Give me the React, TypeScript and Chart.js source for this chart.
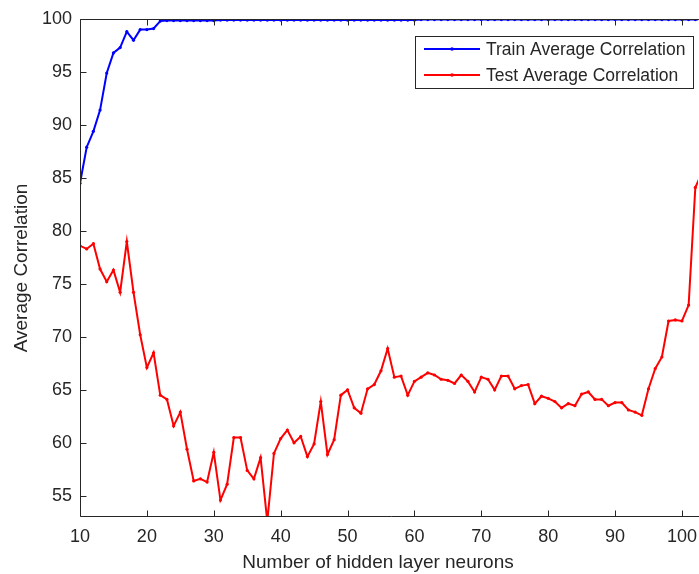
import React, { useEffect, useRef } from 'react';
import { Chart, registerables } from 'chart.js';

Chart.register(...registerables);

// ---- data ----
const neurons = [
  9, 10, 11, 12, 13, 14, 15, 16, 17, 18, 19, 20, 21, 22, 23, 24, 25, 26, 27, 28,
  29, 30, 31, 32, 33, 34, 35, 36, 37, 38, 39, 40, 41, 42, 43, 44, 45, 46, 47, 48,
  49, 50, 51, 52, 53, 54, 55, 56, 57, 58, 59, 60, 61, 62, 63, 64, 65, 66, 67, 68,
  69, 70, 71, 72, 73, 74, 75, 76, 77, 78, 79, 80, 81, 82, 83, 84, 85, 86, 87, 88,
  89, 90, 91, 92, 93, 94, 95, 96, 97, 98, 99, 100, 101, 102, 103,
];

const trainCorr = [
  80.0, 84.5, 87.9, 89.4, 91.4, 94.9, 96.8, 97.3, 98.8, 98.0, 99.0, 99.0, 99.1, 99.8, 99.85, 99.85, 99.85, 99.85, 99.85, 99.85,
  99.85, 99.85, 99.9, 99.9, 99.9, 99.9, 99.9, 99.9, 99.9, 99.9, 99.9, 99.9, 99.9, 99.9, 99.9, 99.9, 99.9, 99.9, 99.9, 99.9,
  99.9, 99.9, 99.9, 99.9, 99.9, 99.9, 99.9, 99.9, 99.9, 99.9, 99.9, 99.9, 99.95, 99.95, 99.95, 99.95, 99.95, 99.95, 99.95, 99.95,
  99.95, 99.95, 99.95, 99.95, 99.95, 99.95, 99.95, 99.95, 99.95, 99.95, 99.95, 99.95, 99.95, 99.95, 99.95, 99.95, 99.95, 99.95, 99.95, 99.95,
  99.95, 99.95, 99.95, 99.95, 99.95, 99.95, 99.95, 99.95, 99.95, 99.95, 99.95, 99.95, 99.95, 99.95, 99.95,
];

const testCorr = [
  76.0, 78.6, 78.3, 78.8, 76.4, 75.2, 76.3, 74.2, 79.0, 74.2, 70.2, 67.1, 68.5, 64.5, 64.1, 61.6, 62.9, 59.4, 56.4, 56.6,
  56.3, 59.1, 54.6, 56.1, 60.5, 60.5, 57.4, 56.6, 58.6, 52.6, 59.0, 60.4, 61.2, 60.0, 60.6, 58.7, 59.9, 63.9, 58.9, 60.3,
  64.5, 65.0, 63.3, 62.8, 65.1, 65.5, 66.8, 68.9, 66.2, 66.3, 64.5, 65.8, 66.2, 66.6, 66.4, 66.0, 65.9, 65.6, 66.4, 65.8,
  64.8, 66.2, 66.0, 65.0, 66.3, 66.3, 65.1, 65.4, 65.5, 63.7, 64.4, 64.2, 63.9, 63.3, 63.7, 63.5, 64.6, 64.8, 64.1, 64.1,
  63.5, 63.8, 63.8, 63.1, 62.9, 62.6, 65.1, 67.0, 68.1, 71.5, 71.6, 71.5, 73.0, 84.1, 85.5,
];

const xTickValues = [10, 20, 30, 40, 50, 60, 70, 80, 90, 100];
const yTickValues = [55, 60, 65, 70, 75, 80, 85, 90, 95, 100];
const seriesLabels = ['Train Average Correlation', 'Test Average Correlation'];
const seriesColors = ['#0000ff', '#ff0000'];
const xTitle = 'Number of hidden layer neurons';
const yTitle = 'Average Correlation';

const X_MIN = 10;
const X_MAX = 102.4;
const Y_MIN = 53;
const Y_MAX = 100;

const AXIS = '#262626';
const FONT = '"Liberation Sans", Arial, Helvetica, sans-serif';

const framePlugin = {
  id: 'matlabFrame',
  afterDraw(chart: any) {
    const { ctx, chartArea } = chart;
    const { left, right, top, bottom } = chartArea;
    const xs = chart.scales.x;
    const ys = chart.scales.y;
    const L = Math.round(left) + 0.5;
    const T = Math.round(top) + 0.5;
    const B = Math.round(bottom) - 0.5;
    const tl = 6;
    ctx.save();
    ctx.strokeStyle = AXIS;
    ctx.lineWidth = 1;
    ctx.beginPath();
    ctx.moveTo(right + 5, T);
    ctx.lineTo(L, T);
    ctx.lineTo(L, B);
    ctx.lineTo(right + 5, B);
    // inward ticks
    xTickValues.forEach((v) => {
      const px = Math.round(xs.getPixelForValue(v)) + 0.5;
      ctx.moveTo(px, B);
      ctx.lineTo(px, B - tl);
      ctx.moveTo(px, T);
      ctx.lineTo(px, T + tl);
    });
    yTickValues.forEach((v) => {
      const py = Math.round(ys.getPixelForValue(v)) + 0.5;
      ctx.moveTo(L, py);
      ctx.lineTo(L + tl, py);
    });
    ctx.stroke();

    // x axis title (slightly left of the visible plot centre, as in the original figure)
    const visRight = Math.min(right, 699);
    ctx.fillStyle = AXIS;
    ctx.font = '19px ' + FONT;
    ctx.textAlign = 'center';
    ctx.textBaseline = 'middle';
    ctx.fillText(xTitle, (left + visRight) / 2 - 11, bottom + 46);

    // legend
    const boxRight = visRight - 5;
    const boxLeft = boxRight - 278;
    const boxTop = top + 17;
    const boxH = 52;
    ctx.fillStyle = '#ffffff';
    ctx.fillRect(boxLeft, boxTop, boxRight - boxLeft, boxH);
    ctx.strokeStyle = AXIS;
    ctx.strokeRect(Math.round(boxLeft) + 0.5, Math.round(boxTop) + 0.5, Math.round(boxRight - boxLeft), boxH);
    ctx.font = '17.5px ' + FONT;
    ctx.textBaseline = 'middle';
    ctx.textAlign = 'left';
    chart.data.datasets.forEach((ds: any, i: number) => {
      const y = boxTop + 13 + i * 26;
      ctx.strokeStyle = ds.borderColor;
      ctx.lineWidth = 2;
      ctx.beginPath();
      ctx.moveTo(boxLeft + 9, y);
      ctx.lineTo(boxLeft + 65, y);
      ctx.stroke();
      ctx.fillStyle = ds.borderColor;
      ctx.beginPath();
      ctx.arc(boxLeft + 37, y, 1.8, 0, Math.PI * 2);
      ctx.fill();
      ctx.fillStyle = AXIS;
      ctx.fillText(ds.label, boxLeft + 71, y + 1);
    });
    ctx.restore();
  },
};

export default function App() {
  const canvasRef = useRef<HTMLCanvasElement | null>(null);

  useEffect(() => {
    if (!canvasRef.current) return;
    const makeSeries = (vals: number[]) => neurons.map((n, i) => ({ x: n, y: vals[i] }));
    const chart = new Chart(canvasRef.current, {
      type: 'line',
      data: {
        datasets: [
          {
            label: seriesLabels[0],
            data: makeSeries(trainCorr),
            borderColor: seriesColors[0],
            backgroundColor: seriesColors[0],
            borderWidth: 2,
            pointRadius: 1.6,
            pointBorderWidth: 0,
            tension: 0,
          },
          {
            label: seriesLabels[1],
            data: makeSeries(testCorr),
            borderColor: seriesColors[1],
            backgroundColor: seriesColors[1],
            borderWidth: 2,
            pointRadius: 1.6,
            pointBorderWidth: 0,
            tension: 0,
          },
        ],
      },
      options: {
        animation: false,
        responsive: false,
        maintainAspectRatio: false,
        layout: { padding: { left: 0, top: 19, right: 0, bottom: 0 } },
        plugins: {
          legend: { display: false },
          tooltip: { enabled: false },
        },
        scales: {
          x: {
            type: 'linear',
            min: X_MIN,
            max: X_MAX,
            grid: { display: false, drawTicks: false },
            border: { display: false },
            afterBuildTicks: (s: any) => {
              s.ticks = xTickValues.map((v) => ({ value: v }));
            },
            afterFit: (s: any) => {
              s.height = 57;
              s.paddingLeft = 0;
              s.paddingRight = 0;
            },
            ticks: {
              padding: 9,
              maxRotation: 0,
              autoSkip: false,
              color: AXIS,
              font: { family: FONT, size: 18 },
            },
            title: { display: false, text: xTitle },
          },
          y: {
            type: 'linear',
            min: Y_MIN,
            max: Y_MAX,
            grid: { display: false, drawTicks: false },
            border: { display: false },
            afterBuildTicks: (s: any) => {
              s.ticks = yTickValues.map((v) => ({ value: v }));
            },
            afterFit: (s: any) => {
              s.width = 80;
              s.paddingTop = 0;
              s.paddingBottom = 0;
            },
            ticks: {
              padding: 8,
              autoSkip: false,
              color: AXIS,
              font: { family: FONT, size: 18 },
            },
            title: {
              display: true,
              text: yTitle,
              color: AXIS,
              font: { family: FONT, size: 19 },
              padding: { top: 10, bottom: 0 },
            },
          },
        },
      },
      plugins: [framePlugin],
    } as any);
    return () => chart.destroy();
  }, []);

  return (
    <div style={{ position: 'absolute', left: 0, top: 0, width: 699, height: 574, overflow: 'hidden', background: '#fff' }}>
      <canvas ref={canvasRef} width={702} height={574} style={{ display: 'block' }} />
    </div>
  );
}
